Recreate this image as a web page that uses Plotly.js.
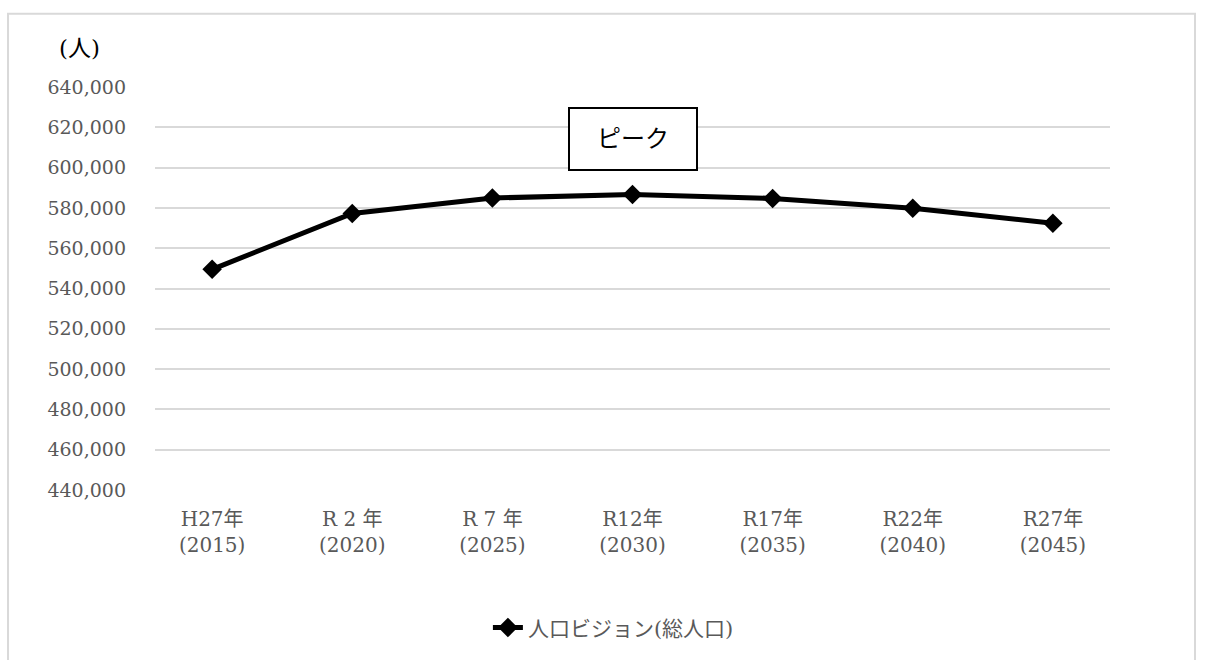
<!DOCTYPE html>
<html>
<head>
<meta charset="utf-8">
<script src="https://cdn.plot.ly/plotly-3.0.1.min.js"></script>
<style>html,body{margin:0;padding:0;background:#fff;}#chart{width:1206px;height:660px;}</style>
</head>
<body>
<div id="chart"></div>
<script>
const categories = ["H27年<br>(2015)", "R 2 年<br>(2020)", "R 7 年<br>(2025)", "R12年<br>(2030)", "R17年<br>(2035)", "R22年<br>(2040)", "R27年<br>(2045)"];
const population = [549500, 577200, 584900, 586700, 584700, 579800, 572400];
const seriesName = "人口ビジョン(総人口)";
const yTicks = [440000, 460000, 480000, 500000, 520000, 540000, 560000, 580000, 600000, 620000, 640000];
const yTickText = ["440,000", "460,000", "480,000", "500,000", "520,000", "540,000", "560,000", "580,000", "600,000", "620,000", "640,000"];
const unitLabel = "(人)";
const peakLabel = "ピーク";

const FONT = '"DejaVu Serif", "Noto Sans CJK JP", serif';

const trace = {
  x: categories,
  y: population,
  name: seriesName,
  type: 'scatter',
  mode: 'lines+markers',
  line: {color: '#000000', width: 5},
  marker: {symbol: 'diamond', size: 15, color: '#000000'}
};

const layout = {
  width: 1206, height: 660,
  margin: {l: 155, r: 96, t: 87, b: 167},
  paper_bgcolor: '#ffffff',
  plot_bgcolor: '#ffffff',
  font: {family: FONT, size: 19, color: '#595959'},
  showlegend: true,
  legend: {
    orientation: 'h', x: 0.48, xanchor: 'center', y: -0.342, yanchor: 'middle',
    font: {family: FONT, size: 21, color: '#595959'}
  },
  xaxis: {
    type: 'category',
    showgrid: false, zeroline: false, showline: false,
    ticks: '', ticklabelstandoff: 15,
    tickfont: {family: FONT, size: 20, color: '#595959'}
  },
  yaxis: {
    range: [440000, 640000],
    tickvals: yTicks, ticktext: yTickText,
    showgrid: true, gridcolor: '#d9d9d9', gridwidth: 2,
    zeroline: false, showline: false, ticks: '',
    ticklabelstandoff: 28,
    tickfont: {family: FONT, size: 19, color: '#595959'}
  },
  shapes: [{
    type: 'rect', xref: 'paper', yref: 'paper',
    x0: -0.1539, x1: 1.089, y0: -0.43, y1: 1.182,
    line: {color: '#d9d9d9', width: 2}, fillcolor: 'rgba(0,0,0,0)', layer: 'below'
  }],
  annotations: [
    {
      text: unitLabel, xref: 'paper', yref: 'paper',
      x: -0.079, y: 1.098, xanchor: 'center', yanchor: 'middle', showarrow: false,
      font: {family: FONT, size: 23, color: '#000000'}
    },
    {
      text: peakLabel, xref: 'x', yref: 'paper',
      x: 3, y: 0.872, xanchor: 'center', yanchor: 'middle', showarrow: false,
      font: {family: FONT, size: 24, color: '#000000'},
      bordercolor: '#000000', borderwidth: 2, borderpad: 16, bgcolor: '#ffffff',
      width: 94, height: 28
    }
  ]
};

Plotly.newPlot('chart', [trace], layout, {displayModeBar: false, staticPlot: true});
</script>
</body>
</html>
